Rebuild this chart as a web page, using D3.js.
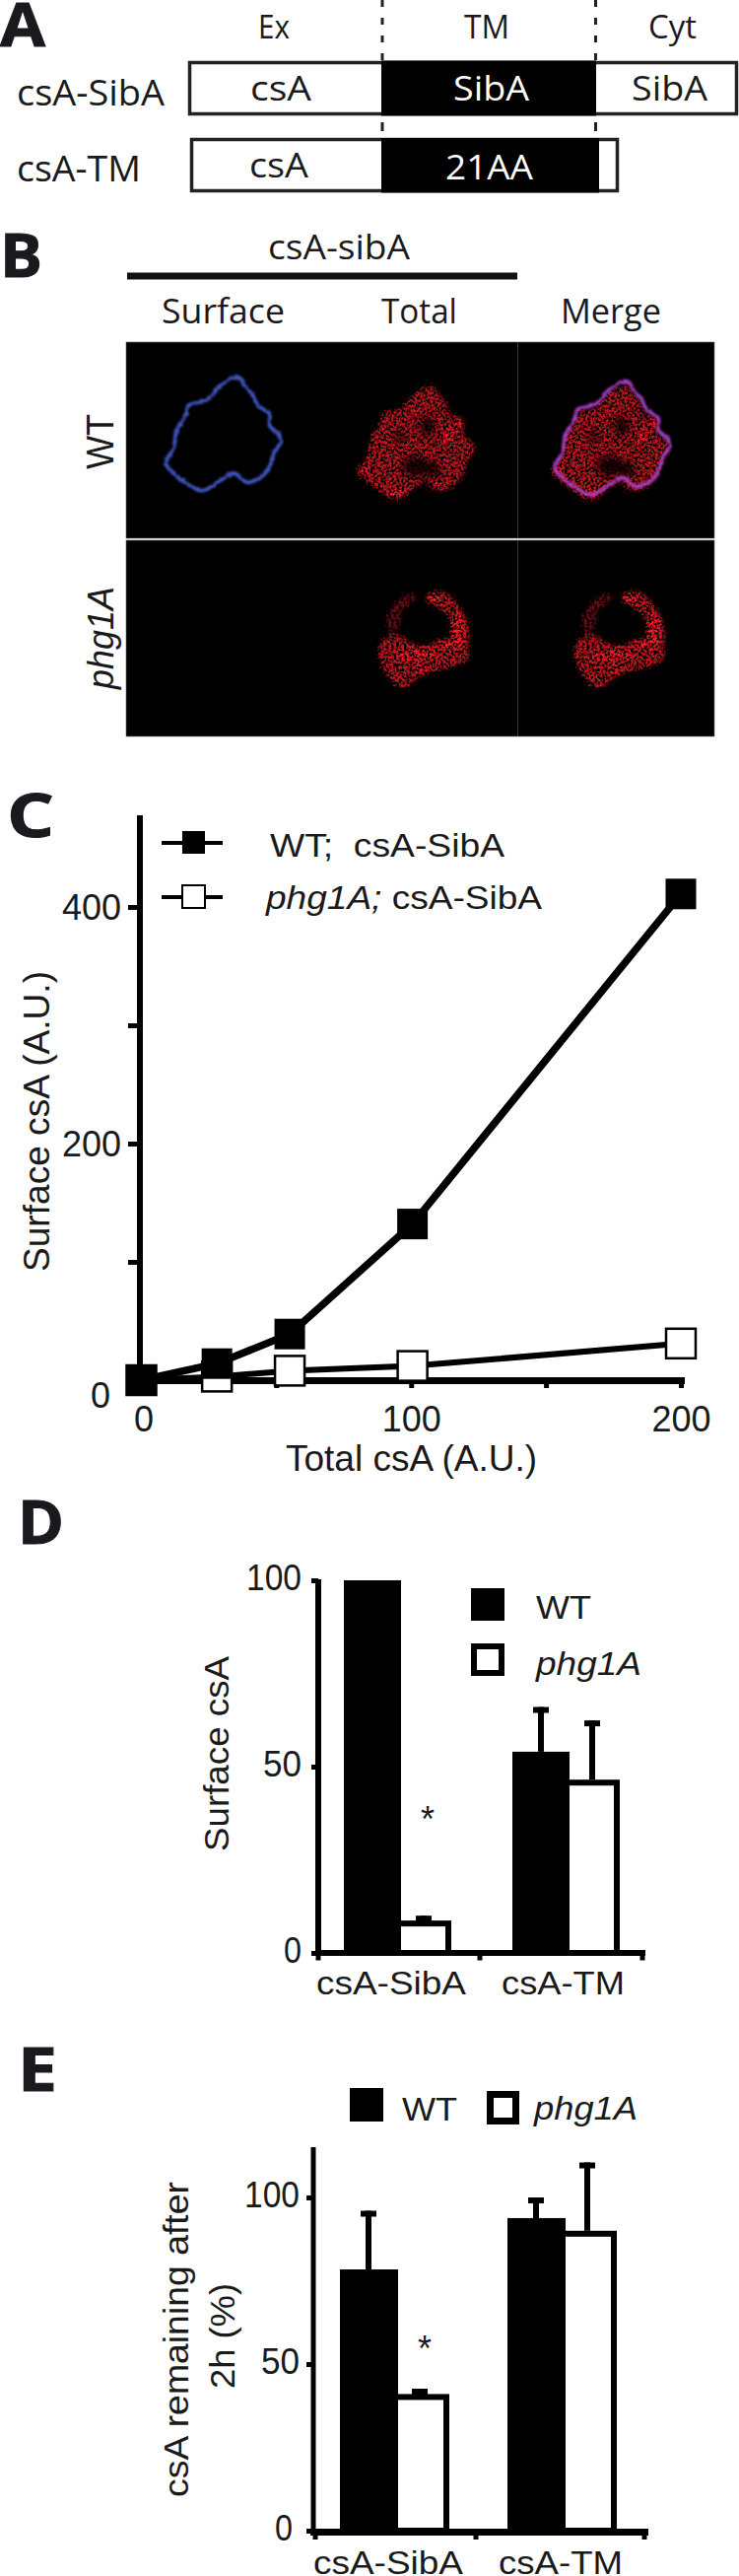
<!DOCTYPE html>
<html><head><meta charset="utf-8">
<script src="https://cdn.jsdelivr.net/npm/d3@7/dist/d3.min.js"></script>
<style>html,body{margin:0;padding:0;background:#fff}svg{display:block}text{fill:#1a1a1a}</style>
</head><body><svg id="c" width="750" height="2613"></svg>
<script>
// Panel C
const totalWT=[0,28,55,100.5,200];
const surfaceWT=[0,14,39,132,411];
const totalPhg=[0,28,55,100.5,200];
const surfacePhg=[0,3,8,12,31];
const cTicksY=[0,100,200,300,400];
const cTicksX=[0,50,100,150,200];
const cLabelsY=[0,200,400];
const cLabelsX=[0,100,200];
// Panels D, E
const groups=["csA-SibA","csA-TM"];
const seriesNames=["WT","phg1A"];
const dWT=[100,54], dWTerr=[100,66];
const dPhg=[8.7,46.5], dPhgErr=[10,62.4];
const eWT=[78.4,93.8], eWTerr=[96,100];
const ePhg=[41,90], ePhgErr=[42.6,110.5];
const barTicks=[0,50,100];
// Micrograph traces (in units of a 1568x1320 tracing of the image strip)
const cellOutline=[[505,157],[520,185],[535,210],[548,245],[572,270],[572,305],[590,330],[597,355],[582,385],[575,420],[560,455],[525,478],[495,450],[470,470],[430,503],[395,480],[365,445],[352,420],[368,375],[375,320],[395,270],[400,245],[440,225],[470,180]];
const cellHoles=[[496,281,15,30],[438,314,12,14],[471,404,28,30],[505,415,18,24],[545,240,8,14]];
const cellSpots=[[358,416,10,18],[429,488,22,14],[513,464,16,10],[538,311,12,22],[565,275,8,14]];
const crescentArc=[[905,820],[945,812],[968,840],[990,885],[998,950],[985,1005],[950,985],[958,950],[958,900],[935,860]];
const crescentBody=[[805,975],[838,940],[892,975],[948,955],[995,985],[995,1015],[968,1038],[905,1062],[853,1105],[815,1045]];
const crescentLeft=[[822,900],[843,840],[878,815],[885,835],[855,870],[850,915],[830,935]];
const crescentSpots=[[975,925,14,50],[925,835,16,16],[885,1000,48,16],[960,975,26,14],[895,1045,14,8]];

const svg=d3.select("#c");
const defs=svg.append("defs");
const speck=defs.append("filter").attr("id","speck").attr("x","-15%").attr("y","-15%").attr("width","130%").attr("height","130%");
speck.append("feTurbulence").attr("type","fractalNoise").attr("baseFrequency","0.38").attr("numOctaves","3").attr("seed","5").attr("result","n");
speck.append("feGaussianBlur").attr("in","SourceGraphic").attr("stdDeviation","1.8").attr("result","b");
speck.append("feDisplacementMap").attr("in","b").attr("in2","n").attr("scale","10").attr("xChannelSelector","R").attr("yChannelSelector","G").attr("result","d");
speck.append("feColorMatrix").attr("in","n").attr("type","matrix").attr("values","0 0 0 0 0 0 0 0 0 0 0 0 0 0 0 3.6 0 0 0 -1.2").attr("result","a");
speck.append("feComposite").attr("in","d").attr("in2","a").attr("operator","in").attr("result","s");
speck.append("feGaussianBlur").attr("in","s").attr("stdDeviation","0.6");
const rough=defs.append("filter").attr("id","rough").attr("x","-15%").attr("y","-15%").attr("width","130%").attr("height","130%");
rough.append("feTurbulence").attr("type","fractalNoise").attr("baseFrequency","0.3").attr("numOctaves","2").attr("seed","2").attr("result","n");
rough.append("feDisplacementMap").attr("in","SourceGraphic").attr("in2","n").attr("scale","4").attr("xChannelSelector","R").attr("yChannelSelector","G").attr("result","d");
rough.append("feGaussianBlur").attr("in","d").attr("stdDeviation","0.8");
defs.append("filter").attr("id","soft").attr("x","-60%").attr("y","-60%").attr("width","220%").attr("height","220%").append("feGaussianBlur").attr("stdDeviation","3.5");
defs.append("filter").attr("id","glow").attr("x","-60%").attr("y","-60%").attr("width","220%").attr("height","220%").append("feGaussianBlur").attr("stdDeviation","2");

const SANS="'Liberation Sans',Arial,sans-serif", MYR="'Open Sans','Noto Sans',sans-serif";
function T(x,y,t,o={}){
  const s=svg.append("text").attr("x",x).attr("y",y).text(t)
    .attr("font-family",o.f||SANS).attr("font-size",o.s||34)
    .attr("font-weight",o.w||"normal").attr("font-style",o.i?"italic":"normal");
  if(o.fill)s.style("fill",o.fill);
  if(o.len)s.attr("textLength",o.len).attr("lengthAdjust","spacingAndGlyphs");
  if(o.a)s.attr("text-anchor",o.a);
  if(o.rot)s.attr("transform",`rotate(-90 ${x} ${y})`);
  return s;
}
// Panel letters
[["A",0,47,46],["B",0,281,43],["C",7,849,48],["D",18,1566,47],["E",18,2121,40]].forEach(d=>T(d[1],d[2],d[0],{f:MYR,w:700,s:60,len:d[3],fill:"#1a1a1e"}).style("stroke","#1a1a1e").style("stroke-width",1));

// ---------- Panel A
function box(x,y,w,h,fill){return svg.append("rect").attr("x",x).attr("y",y).attr("width",w).attr("height",h).attr("fill",fill).attr("stroke",fill=="#000"?"none":"#222").attr("stroke-width",3.5);}
[388,604.5].forEach(x=>{
  svg.append("line").attr("x1",x).attr("x2",x).attr("y1",0).attr("y2",64).attr("stroke","#222").attr("stroke-width",3).attr("stroke-dasharray","7 11");
  svg.append("line").attr("x1",x).attr("x2",x).attr("y1",124).attr("y2",133).attr("stroke","#222").attr("stroke-width",3);
});
box(192.5,63.5,555,52,"#fff");box(387,61.5,218,56,"#000");
box(194.5,141.5,432,52,"#fff");box(387,140,221,55.5,"#000");
T(262,39,"Ex",{f:MYR,s:32,len:32});T(471,39,"TM",{f:MYR,s:32,len:46});T(658,39,"Cyt",{f:MYR,s:32,len:49});
T(17,107,"csA-SibA",{f:MYR,s:36,len:150});T(17,184,"csA-TM",{f:MYR,s:36,len:126});
T(254,102,"csA",{f:MYR,s:35,len:62});T(460,102,"SibA",{f:MYR,s:35,len:77,fill:"#fff"});T(641,102,"SibA",{f:MYR,s:35,len:77});
T(253,180,"csA",{f:MYR,s:35,len:60});T(452,182,"21AA",{f:MYR,s:35,len:89,fill:"#fff"});

// ---------- Panel B
T(272,263,"csA-sibA",{f:MYR,s:35,len:144});
svg.append("line").attr("x1",129).attr("x2",525).attr("y1",280).attr("y2",280).attr("stroke","#111").attr("stroke-width",7);
T(164,328,"Surface",{f:MYR,s:34,len:125});T(387,328,"Total",{f:MYR,s:34,len:77});T(569,328,"Merge",{f:MYR,s:34,len:102});
[[347,199],[548,199]].forEach(r=>svg.append("rect").attr("x",128).attr("y",r[0]).attr("width",597).attr("height",r[1]).attr("fill","#000").attr("stroke","#666").attr("stroke-width",.6));
[[347,546],[548,747]].forEach(r=>svg.append("line").attr("x1",525.5).attr("x2",525.5).attr("y1",r[0]).attr("y2",r[1]).attr("stroke","#3a3a3a").attr("stroke-width",1));
const tx=d3.scaleLinear([0,1568],[0,750]), ty=d3.scaleLinear([0,1320],[330,770]);
const sx=v=>v*750/1568, sy=v=>v/3;
const closed=d3.line().x(d=>tx(d[0])).y(d=>ty(d[1])).curve(d3.curveCatmullRomClosed.alpha(.5));
function stain(dx,dy,outlines,holes,spots){
  const g=svg.append("g").attr("transform",`translate(${sx(dx)},${sy(dy)})`);
  const f=g.append("g").attr("filter","url(#speck)");
  outlines.forEach(o=>f.append("path").attr("d",closed(o.p)).attr("fill","#b8131d").attr("opacity",o.a));
  f.selectAll("ellipse.h").data(holes).join("ellipse").attr("class","h").attr("cx",d=>tx(d[0])).attr("cy",d=>ty(d[1])).attr("rx",d=>sx(d[2])).attr("ry",d=>sy(d[3])).attr("fill","#000").attr("opacity",.85).attr("filter","url(#soft)");
  f.selectAll("ellipse.s").data(spots).join("ellipse").attr("class","s").attr("cx",d=>tx(d[0])).attr("cy",d=>ty(d[1])).attr("rx",d=>sx(d[2])).attr("ry",d=>sy(d[3])).attr("fill","#ff1c26").attr("filter","url(#glow)");
}
function ring(dx,dy,col,w){
  svg.append("path").attr("transform",`translate(${sx(dx)},${sy(dy)})`).attr("d",closed(cellOutline)).attr("fill","none").attr("stroke",col).attr("stroke-width",w).attr("filter","url(#rough)");
}
ring(0,0,"#3f55bf",3.8);
const cellParts=[{p:cellOutline,a:1}];
const crescentParts=[{p:crescentArc,a:1},{p:crescentBody,a:1},{p:crescentLeft,a:.55}];
stain(413,25,cellParts,cellHoles,cellSpots);
stain(825,25,cellParts,cellHoles,cellSpots);
ring(825,13,"#a63fc4",3.6);
stain(0,0,crescentParts,[],crescentSpots);
stain(415,0,crescentParts,[],crescentSpots);
T(115,476,"WT",{s:38,len:56,rot:1});
T(115,699,"phg1A",{s:37,i:1,len:104,rot:1});

// ---------- Panel C
const cx=d3.scaleLinear([0,200],[143.5,691]);
const cy=d3.scaleLinear([0,400],[1400,920]);
function styleAxis(g,w,fs){
  g.select(".domain").remove();
  g.selectAll(".tick line").attr("stroke","#000").attr("stroke-width",w);
  g.selectAll(".tick text").attr("font-family",SANS).attr("font-size",fs).style("fill","#1a1a1a");
}
const gy=svg.append("g").attr("transform","translate(142,0)")
  .call(d3.axisLeft(cy).tickValues(cTicksY).tickSize(12).tickPadding(7).tickFormat(d=>cLabelsY.includes(d)?d:""));
styleAxis(gy,5,36);
gy.selectAll(".tick text").attr("dy",d=>d==0?"0.75em":"0.34em").attr("dx",d=>d==0?"-11":"0");
const gx=svg.append("g").attr("transform","translate(0,1400)")
  .call(d3.axisBottom(cx).tickValues(cTicksX).tickSize(8).tickPadding(10).tickFormat(d=>cLabelsX.includes(d)?d:""));
styleAxis(gx,5,36);
gx.selectAll(".tick text").attr("dy","0.95em").attr("dx",d=>d==0?"2":"0");
svg.append("line").attr("x1",142).attr("x2",142).attr("y1",827).attr("y2",1403).attr("stroke","#000").attr("stroke-width",6);
svg.append("line").attr("x1",139).attr("x2",695).attr("y1",1400.5).attr("y2",1400.5).attr("stroke","#000").attr("stroke-width",7);
T(50,1290,"Surface csA (A.U.)",{s:36,len:305,rot:1});
T(290,1492,"Total csA (A.U.)",{s:36,len:255});
const ln=d3.line().x(d=>cx(d[0])).y(d=>cy(d[1]));
function series(xs,ys,fill,sw,size){
  const pts=d3.zip(xs,ys);
  svg.append("path").attr("d",ln(pts)).attr("fill","none").attr("stroke","#000").attr("stroke-width",sw);
  svg.selectAll(null).data(pts).join("rect").attr("x",d=>cx(d[0])-size/2).attr("y",d=>cy(d[1])-size/2).attr("width",size).attr("height",size).attr("fill",fill).attr("stroke",fill=="#000"?"none":"#000").attr("stroke-width",fill=="#000"?0:2.5);
}
series(totalPhg,surfacePhg,"#fff",6,30);
series(totalWT,surfaceWT,"#000",7.5,31);
// C legend
[[855,"#000"],[910,"#fff"]].forEach(d=>{
  svg.append("line").attr("x1",164).attr("x2",226).attr("y1",d[0]).attr("y2",d[0]).attr("stroke","#000").attr("stroke-width",4);
  svg.append("rect").attr("x",185).attr("y",d[0]-12).attr("width",23).attr("height",23).attr("fill",d[1]).attr("stroke","#000").attr("stroke-width",d[1]=="#000"?0:2);
});
T(274,869,"WT;  csA-SibA",{s:34,len:238}).attr("xml:space","preserve");
const ph=T(270,922,"",{s:34,len:280});
ph.append("tspan").attr("font-style","italic").text("phg1A;");ph.append("tspan").text(" csA-SibA");

// ---------- Bars
function barPanel(o){
  const x0=d3.scaleBand().domain(groups).range([o.left,o.left+2*o.step]);
  const x1=d3.scaleBand().domain(seriesNames).range([0,2*o.sub]);
  const y=d3.scaleLinear([0,100],[o.y0,o.y100]);
  const g=svg.append("g").attr("transform",`translate(${o.ax},0)`)
    .call(d3.axisLeft(y).tickValues(barTicks).tickSize(o.ax-o.tickEnd).tickPadding(o.pad).tickFormat(d=>d));
  styleAxis(g,5,36);
  g.selectAll(".tick text").attr("dy","0.26em").attr("dx",d=>d==0?o.zeroDx:0).attr("textLength",d=>d==100?56:d==50?39:18).attr("lengthAdjust","spacingAndGlyphs");
  function bars(vals,tops,name,fill){
    const sw=6;
    vals.forEach((v,i)=>{
      const cxm=x0(groups[i])+x1(name)+o.stem[seriesNames.indexOf(name)];
      svg.append("line").attr("x1",cxm).attr("x2",cxm).attr("y1",y(v)).attr("y2",y(tops[i])).attr("stroke","#000").attr("stroke-width",sw);
      svg.append("line").attr("x1",cxm-8).attr("x2",cxm+8).attr("y1",y(tops[i])+3).attr("y2",y(tops[i])+3).attr("stroke","#000").attr("stroke-width",sw);
    });
    svg.selectAll(null).data(vals).join("rect")
      .attr("x",(d,i)=>x0(groups[i])+x1(name)+3)
      .attr("y",d=>y(d)+3)
      .attr("width",o.outer-6)
      .attr("height",d=>y(0)-y(d)-3)
      .attr("fill",fill).attr("stroke","#000").attr("stroke-width",sw);
  }
  bars(o.phg,o.phgErr,"phg1A","#fff");
  bars(o.wt,o.wtErr,"WT","#000");
  svg.append("line").attr("x1",o.ax).attr("x2",o.ax).attr("y1",o.top).attr("y2",o.base+2).attr("stroke","#000").attr("stroke-width",o.axw);
  svg.append("line").attr("x1",o.ax-3).attr("x2",o.xEnd).attr("y1",o.base).attr("y2",o.base).attr("stroke","#000").attr("stroke-width",o.bw);
  svg.selectAll(null).data(o.xt).join("line").attr("x1",d=>d).attr("x2",d=>d).attr("y1",o.base).attr("y2",o.base+7.5).attr("stroke","#000").attr("stroke-width",5);
  T(o.star[0],o.star[1],"*",{s:36,a:"middle"});
}
barPanel({left:349,step:171,sub:51,outer:58,y0:1981,y100:1603,ax:323,tickEnd:316,pad:10,top:1602,base:1981,axw:6,bw:6,xEnd:655,zeroDx:0,
  xt:[323,487,652],wt:dWT,wtErr:dWTerr,phg:dPhg,phgErr:dPhgErr,stem:[29,30],star:[434,1858]});
barPanel({left:345,step:170,sub:52,outer:59,y0:2567,y100:2229,ax:318,tickEnd:311,pad:7,top:2178,base:2568.5,axw:5,bw:7,xEnd:658,zeroDx:-7,
  xt:[320,483,654],wt:eWT,wtErr:eWTerr,phg:ePhg,phgErr:ePhgErr,stem:[29,29],star:[431,2395]});

T(232,1878,"Surface csA",{s:35,len:198,rot:1});
T(321,2023,groups[0],{s:33,len:152});T(509,2023,groups[1],{s:33,len:125});
svg.append("rect").attr("x",478).attr("y",1611).attr("width",34).attr("height",33).attr("fill","#000");
svg.append("rect").attr("x",481).attr("y",1670).attr("width",28).attr("height",27).attr("fill","#fff").attr("stroke","#000").attr("stroke-width",6);
T(544,1642,"WT",{s:33,len:56});T(544,1699,"phg1A",{s:33,i:1,len:107});

T(191,2533,"csA remaining after",{s:35,len:320,rot:1});
T(238,2423,"2h (%)",{s:35,len:107,rot:1});
T(318,2611,groups[0],{s:33,len:152});T(506,2611,groups[1],{s:33,len:126});
svg.append("rect").attr("x",355).attr("y",2118).attr("width",34).attr("height",34).attr("fill","#000");
svg.append("rect").attr("x",497.5).attr("y",2124.5).attr("width",26).attr("height",27).attr("fill","#fff").attr("stroke","#000").attr("stroke-width",7);
T(408,2151,"WT",{s:33,len:56});T(542,2150,"phg1A",{s:33,i:1,len:105});
</script></body></html>
